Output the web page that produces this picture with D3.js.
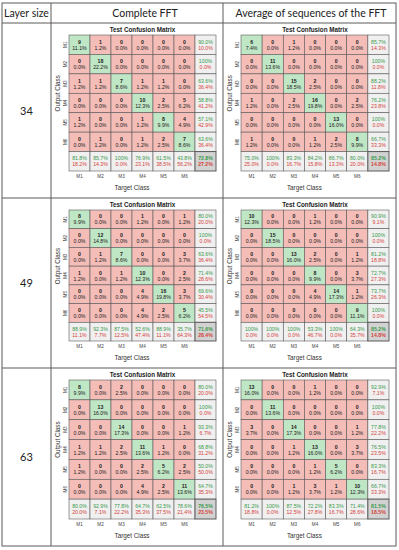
<!DOCTYPE html>
<html>
<head>
    <meta charset="utf-8">
    <title>Confusion matrices</title>
    <script src="https://d3js.org/d3.v7.min.js"></script>
    <style>
        body { margin: 0; padding: 0; background: #fff; }
        .cm text { font-family: "Liberation Sans", Arial, sans-serif; }
        .tbl text { font-family: Lato, "Open Sans", sans-serif; fill: #222; }
    </style>
</head>
<body>
<svg id="svg" width="399" height="550"></svg>
<script>
const classes = ["M1", "M2", "M3", "M4", "M5", "M6"];
const layerSizes = ["34", "49", "63"];
const methods = ["Complete FFT", "Average of sequences of the FFT"];
const totalSamples = 81;

// rows = output class, columns = target class
const full34 = [
    [9, 1, 0, 0, 0, 0],
    [0, 18, 0, 0, 0, 0],
    [1, 1, 7, 1, 1, 0],
    [0, 0, 0, 10, 2, 5],
    [1, 0, 0, 1, 8, 4],
    [0, 1, 0, 1, 2, 7]
];
const full34RowAcc = [90.0, 100, 63.6, 58.8, 57.1, 63.6];
const full34ColAcc = [81.8, 85.7, 100, 76.9, 61.5, 43.8];
const full34Total = 72.8;

const avg34 = [
    [6, 0, 1, 0, 0, 0],
    [0, 11, 0, 0, 0, 0],
    [0, 0, 15, 2, 0, 0],
    [1, 0, 2, 16, 0, 2],
    [0, 0, 0, 0, 13, 0],
    [1, 0, 0, 1, 2, 8]
];
const avg34RowAcc = [85.7, 100, 88.2, 76.2, 100, 66.7];
const avg34ColAcc = [75.0, 100, 83.3, 84.2, 86.7, 80.0];
const avg34Total = 85.2;

const full49 = [
    [8, 0, 0, 1, 0, 1],
    [0, 12, 0, 0, 0, 0],
    [0, 1, 7, 0, 0, 3],
    [1, 0, 1, 10, 0, 2],
    [0, 0, 0, 4, 16, 3],
    [0, 0, 0, 4, 2, 5]
];
const full49RowAcc = [80.0, 100, 63.6, 71.4, 69.6, 45.5];
const full49ColAcc = [88.9, 92.3, 87.5, 52.6, 88.9, 35.7];
const full49Total = 71.6;

const avg49 = [
    [10, 0, 0, 1, 0, 0],
    [0, 15, 0, 0, 0, 0],
    [0, 0, 13, 2, 0, 1],
    [0, 0, 0, 8, 0, 3],
    [0, 0, 0, 4, 14, 1],
    [0, 0, 0, 0, 0, 9]
];
const avg49RowAcc = [90.9, 100, 81.2, 72.7, 73.7, 100];
const avg49ColAcc = [100, 100, 100, 53.3, 100, 64.3];
const avg49Total = 85.2;

const full63 = [
    [8, 0, 2, 0, 0, 0],
    [0, 13, 0, 0, 0, 0],
    [0, 0, 14, 0, 0, 1],
    [1, 1, 2, 11, 1, 0],
    [1, 0, 0, 2, 5, 2],
    [0, 0, 0, 4, 2, 11]
];
const full63RowAcc = [80.0, 100, 93.3, 68.8, 50.0, 64.7];
const full63ColAcc = [80.0, 92.9, 77.8, 64.7, 62.5, 78.6];
const full63Total = 76.5;

const avg63 = [
    [13, 0, 0, 1, 0, 0],
    [0, 11, 0, 0, 0, 0],
    [3, 0, 14, 0, 0, 1],
    [0, 0, 1, 13, 0, 3],
    [0, 0, 0, 1, 5, 0],
    [0, 0, 1, 3, 1, 10]
];
const avg63RowAcc = [92.9, 100, 77.8, 76.5, 83.3, 66.7];
const avg63ColAcc = [81.2, 100, 87.5, 72.2, 83.3, 71.4];
const avg63Total = 81.5;

const matrices = [
    [{ counts: full34, rowAcc: full34RowAcc, colAcc: full34ColAcc, total: full34Total },
     { counts: avg34, rowAcc: avg34RowAcc, colAcc: avg34ColAcc, total: avg34Total }],
    [{ counts: full49, rowAcc: full49RowAcc, colAcc: full49ColAcc, total: full49Total },
     { counts: avg49, rowAcc: avg49RowAcc, colAcc: avg49ColAcc, total: avg49Total }],
    [{ counts: full63, rowAcc: full63RowAcc, colAcc: full63ColAcc, total: full63Total },
     { counts: avg63, rowAcc: avg63RowAcc, colAcc: avg63ColAcc, total: avg63Total }]
];

const GREEN = "#bfe6c5", RED = "#f5bdb8", GREY = "#f0f0f0", CORNER = "#d2d2d2";
const TXT_G = "#3a9a4c", TXT_R = "#d5433b", LINE = "#5a5a5a";

const svg = d3.select("#svg");

// Table frame
const colEdges = [2, 51, 223, 396];
const rowEdges = [3, 23, 198, 368, 546];
const tbl = svg.append("g").attr("class", "tbl");

tbl.append("rect")
    .attr("x", colEdges[0]).attr("y", rowEdges[0])
    .attr("width", colEdges[3] - colEdges[0]).attr("height", rowEdges[4] - rowEdges[0])
    .attr("fill", "none").attr("stroke", LINE).attr("stroke-width", 1);
colEdges.slice(1, 3).forEach(x => tbl.append("line")
    .attr("x1", x).attr("x2", x).attr("y1", rowEdges[0]).attr("y2", rowEdges[4])
    .attr("stroke", LINE).attr("stroke-width", 1));
rowEdges.slice(1, 4).forEach(y => tbl.append("line")
    .attr("x1", colEdges[0]).attr("x2", colEdges[3]).attr("y1", y).attr("y2", y)
    .attr("stroke", LINE).attr("stroke-width", 1));

// Header texts
tbl.append("text").attr("x", 26.5).attr("y", 17).attr("text-anchor", "middle")
    .attr("font-size", "10.5px").text("Layer size");
tbl.append("text").attr("x", 145).attr("y", 17).attr("text-anchor", "middle")
    .attr("font-size", "10.5px").text(methods[0]);
tbl.append("text").attr("x", 311).attr("y", 17).attr("text-anchor", "middle")
    .attr("font-size", "10.5px").text(methods[1]);

layerSizes.forEach((s, r) => {
    tbl.append("text")
        .attr("x", 26.5).attr("y", (rowEdges[r + 1] + rowEdges[r + 2]) / 2 + 4)
        .attr("text-anchor", "middle").attr("font-size", "11px").text(s);
});

const pct = v => v === 100 ? "100%" : v.toFixed(1) + "%";

function drawMatrix(m, left, right, top, bottom) {
    const g = svg.append("g").attr("class", "cm");
    const keys = classes.concat(["sum"]);
    const x = d3.scaleBand().domain(keys).range([left, right]);
    const y = d3.scaleBand().domain(keys).range([top, bottom]);
    const bw = x.bandwidth(), bh = y.bandwidth();

    // Title
    g.append("text")
        .attr("x", (left + right) / 2).attr("y", top - 3)
        .attr("text-anchor", "middle").attr("font-size", "6.3px").attr("font-weight", "bold")
        .attr("fill", "#222").text("Test Confusion Matrix");

    // Class cells
    const cells = [];
    m.counts.forEach((row, i) => row.forEach((v, j) => cells.push({ i, j, v })));
    const cg = g.selectAll("g.cell").data(cells).join("g").attr("class", "cell");
    cg.append("rect")
        .attr("x", d => x(classes[d.j])).attr("y", d => y(classes[d.i]))
        .attr("width", bw).attr("height", bh)
        .attr("fill", d => d.i === d.j ? GREEN : RED)
        .attr("stroke", LINE).attr("stroke-width", 0.6);
    cg.append("text")
        .attr("x", d => x(classes[d.j]) + bw / 2).attr("y", d => y(classes[d.i]) + bh / 2 - 1)
        .attr("text-anchor", "middle").attr("font-size", "5.2px").attr("font-weight", "bold")
        .attr("fill", "#222").text(d => d.v);
    cg.append("text")
        .attr("x", d => x(classes[d.j]) + bw / 2).attr("y", d => y(classes[d.i]) + bh / 2 + 5)
        .attr("text-anchor", "middle").attr("font-size", "5.2px")
        .attr("fill", "#222").text(d => (d.v / totalSamples * 100).toFixed(1) + "%");

    // Summary column (per output class) and row (per target class)
    const sums = [];
    m.rowAcc.forEach((a, i) => sums.push({ cx: "sum", cy: classes[i], a, corner: false }));
    m.colAcc.forEach((a, j) => sums.push({ cx: classes[j], cy: "sum", a, corner: false }));
    sums.push({ cx: "sum", cy: "sum", a: m.total, corner: true });

    const sg = g.selectAll("g.sum").data(sums).join("g").attr("class", "sum");
    sg.append("rect")
        .attr("x", d => x(d.cx)).attr("y", d => y(d.cy))
        .attr("width", bw).attr("height", bh)
        .attr("fill", d => d.corner ? CORNER : GREY)
        .attr("stroke", LINE).attr("stroke-width", d => d.corner ? 1 : 0.6);
    sg.append("text")
        .attr("x", d => x(d.cx) + bw / 2).attr("y", d => y(d.cy) + bh / 2 - 1)
        .attr("text-anchor", "middle").attr("font-size", "5.2px")
        .attr("font-weight", d => d.corner ? "bold" : "normal")
        .attr("fill", TXT_G).text(d => pct(d.a));
    sg.append("text")
        .attr("x", d => x(d.cx) + bw / 2).attr("y", d => y(d.cy) + bh / 2 + 5)
        .attr("text-anchor", "middle").attr("font-size", "5.2px")
        .attr("font-weight", d => d.corner ? "bold" : "normal")
        .attr("fill", TXT_R).text(d => pct(100 - d.a));

    // X axis tick labels
    const xa = g.append("g")
        .attr("transform", `translate(0, ${bottom})`)
        .call(d3.axisBottom(x).tickValues(classes).tickSize(0).tickPadding(4));
    xa.select(".domain").remove();
    xa.selectAll("text").attr("font-size", "4.6px").attr("fill", "#444")
        .attr("font-family", "Liberation Sans, Arial, sans-serif");

    // Y axis tick labels (rotated)
    const ya = g.append("g")
        .attr("transform", `translate(${left}, 0)`)
        .call(d3.axisLeft(y).tickValues(classes).tickSize(0).tickPadding(0));
    ya.select(".domain").remove();
    ya.selectAll("text")
        .attr("font-size", "4.6px").attr("fill", "#444")
        .attr("font-family", "Liberation Sans, Arial, sans-serif")
        .attr("x", 0).attr("dy", 0)
        .attr("text-anchor", "middle")
        .attr("transform", "translate(-2.5, 0) rotate(-90)");

    // Axis titles
    const classMidX = (x(classes[0]) + x(classes[5]) + bw) / 2;
    const classMidY = (y(classes[0]) + y(classes[5]) + bh) / 2;
    g.append("text")
        .attr("transform", `translate(${left - 9.5}, ${classMidY}) rotate(-90)`)
        .attr("text-anchor", "middle").attr("font-size", "6.3px").attr("fill", "#333")
        .text("Output Class");
    g.append("text")
        .attr("x", classMidX).attr("y", bottom + 19)
        .attr("text-anchor", "middle").attr("font-size", "6.3px").attr("fill", "#333")
        .text("Target Class");
}

matrices.forEach((rowMs, r) => {
    const top = rowEdges[r + 1], bot = rowEdges[r + 2];
    rowMs.forEach((m, c) => {
        const l = colEdges[c + 1], rr = colEdges[c + 2];
        drawMatrix(m, l + 18, rr - 7, top + 12, bot - 27);
    });
});
</script>
</body>
</html>
